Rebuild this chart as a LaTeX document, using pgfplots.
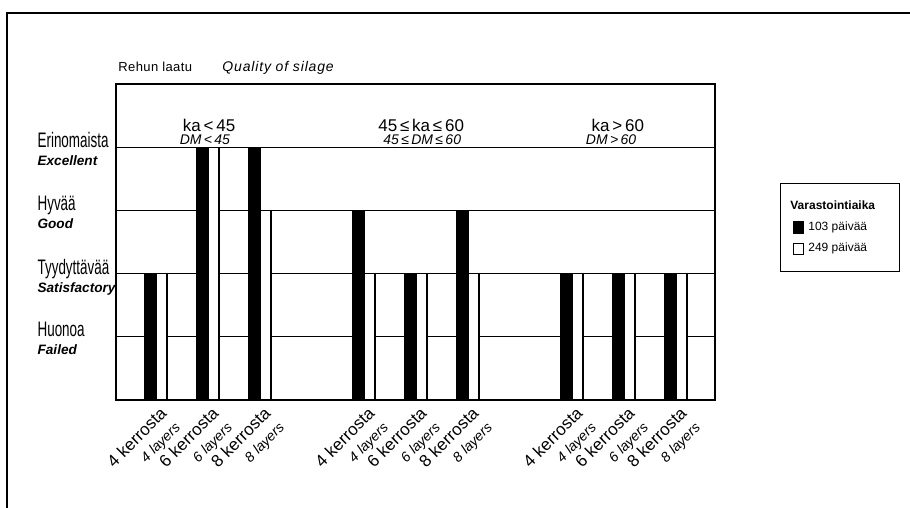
\documentclass[border=0pt]{standalone}
\usepackage{fontspec}
\setmainfont{Liberation Sans}
\newfontfamily\narrow[FakeStretch=0.64]{Liberation Sans}
\usepackage{pgfplots}
\pgfplotsset{compat=1.18}
\pgfplotsset{sq legend/.style={legend image code/.code={\draw[##1] (0pt,-2.9pt) rectangle (5.3pt,2.9pt);}}}

% two-line tick labels: Finnish over English
\newcommand\xl[1]{#1 kerrosta\\{\itshape\fontsize{7}{8}\selectfont #1 layers}}
\newcommand\yl[2]{{\narrow\fontsize{10.5}{11}\selectfont #1}\\{\bfseries\itshape\fontsize{6.8}{8}\selectfont #2}}

\begin{document}
\begin{tikzpicture}
\path[use as bounding box] (0pt,0pt) rectangle (455pt,-254pt);

\begin{axis}[
    at={(58pt,-200pt)}, anchor=south west,
    scale only axis,
    width=299.5pt, height=158pt,
    xmin=0.2308, xmax=11.75,
    ymin=0, ymax=5,
    xtick={1,2,3,5,6,7,9,10,11},
    xticklabels={\xl{4},\xl{6},\xl{8},\xl{4},\xl{6},\xl{8},\xl{4},\xl{6},\xl{8}},
    xticklabel style={rotate=45, anchor=north east, align=right, inner sep=0pt,
        xshift=-1pt, yshift=-3pt, font=\fontsize{8.5}{9.5}\selectfont},
    ytick={1,2,3,4},
    yticklabels={\yl{Huonoa}{Failed},\yl{Tyydyttävää}{Satisfactory},\yl{Hyvää}{Good},\yl{Erinomaista}{Excellent}},
    yticklabel style={anchor=north east, align=left, text width=39pt, inner sep=0pt,
        yshift=7.5pt, font=\fontsize{7}{9}\selectfont},
    major tick length=0pt,
    ymajorgrids,
    grid style={black, line width=0.5pt},
    axis line style={line width=0.7pt},
    clip=false,
    legend style={at={(1.1085,0.6867)}, anchor=north west, draw=black, line width=0.6pt,
        font=\fontsize{6}{7}\selectfont, inner xsep=6pt, inner ysep=6.5pt,
        row sep=0.8pt, cells={anchor=west}},
]
\addlegendimage{empty legend}
\addlegendentry{\hspace*{-9pt}\textbf{Varastointiaika}\hspace*{4pt}}

% 103 days storage
\addplot[ybar, bar width=0.21, bar shift=-0.105, fill=black, draw=black, line width=0.6pt, sq legend]
    coordinates {(1,2)(2,4)(3,4)(5,3)(6,2)(7,3)(9,2)(10,2)(11,2)};
\addlegendentry{103 päivää}

% 249 days storage
\addplot[ybar, bar width=0.21, bar shift=0.105, fill=white, draw=black, line width=0.6pt, sq legend]
    coordinates {(1,2)(2,4)(3,3)(5,2)(6,2)(7,2)(9,2)(10,2)(11,2)};
\addlegendentry{249 päivää}

% dry matter groups
\node[anchor=base, font=\fontsize{8.5}{9}\selectfont] at (axis cs:2.02,4.256) {ka\,<\,45};
\node[anchor=base, font=\itshape\fontsize{7}{7}\selectfont] at (axis cs:1.94,4.05) {DM\,<\,45};
\node[anchor=base, font=\fontsize{8.5}{9}\selectfont] at (axis cs:6.1,4.256) {45\,≤\,ka\,≤\,60};
\node[anchor=base, font=\itshape\fontsize{7}{7}\selectfont] at (axis cs:6.12,4.05) {45\,≤\,DM\,≤\,60};
\node[anchor=base, font=\fontsize{8.5}{9}\selectfont] at (axis cs:9.88,4.256) {ka\,>\,60};
\node[anchor=base, font=\itshape\fontsize{7}{7}\selectfont] at (axis cs:9.75,4.05) {DM\,>\,60};
\end{axis}

\begin{scope}[x=0.5pt, y=-0.5pt]
\draw[line width=0.8pt] (7,508) -- (7,13) -- (910,13);
\node[anchor=base west, inner sep=0pt, font=\fontsize{6.5}{7}\selectfont\addfontfeature{LetterSpace=3}] at (118,72) {Rehun laatu};
\node[anchor=base west, inner sep=0pt, font=\itshape\fontsize{7}{8}\selectfont\addfontfeature{LetterSpace=6}] at (222,72) {Quality of silage};
\end{scope}
\end{tikzpicture}
\end{document}
